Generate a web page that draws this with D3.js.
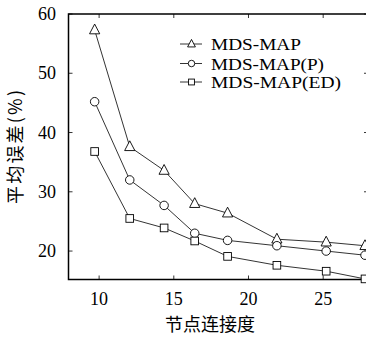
<!DOCTYPE html>
<html>
<head>
<meta charset="utf-8">
<script src="https://cdn.jsdelivr.net/npm/d3@7"></script>
<style>
  html, body { margin: 0; padding: 0; background: #fff; }
  svg { display: block; }
  text { font-family: "Liberation Serif", "DejaVu Serif", serif; fill: #000; }
  .cjk { font-family: "Noto Sans CJK SC", sans-serif; }
</style>
</head>
<body>
<div id="chart"></div>
<script>
// Data
const degree = [9.7, 12.05, 14.35, 16.4, 18.6, 21.9, 25.2, 27.8];
const mdsMap = [57.3, 37.6, 33.6, 28.0, 26.4, 22.0, 21.5, 20.9];
const mdsMapP = [45.2, 32.0, 27.7, 23.0, 21.8, 20.9, 20.0, 19.3];
const mdsMapED = [36.8, 25.5, 23.9, 21.7, 19.1, 17.6, 16.6, 15.3];
const seriesNames = ["MDS-MAP", "MDS-MAP(P)", "MDS-MAP(ED)"];
const seriesShapes = ["triangle", "circle", "square"];
const xTicks = [10, 15, 20, 25];
const yTicks = [20, 30, 40, 50, 60];

const width = 366, height = 338;
const mLeft = 68.5, mTop = 14, mBottom = 279.5, mRight = 368;

const svg = d3.select("#chart").append("svg")
  .attr("width", width)
  .attr("height", height);

const x = d3.scaleLinear().domain([7.95, 28]).range([mLeft, mRight]);
const y = d3.scaleLinear().domain([15.2, 60]).range([mBottom, mTop]);

// frame
svg.append("rect")
  .attr("x", mLeft).attr("y", mTop)
  .attr("width", mRight - mLeft).attr("height", mBottom - mTop)
  .attr("fill", "none").attr("stroke", "#000").attr("stroke-width", 1.5);

// inward ticks on all four sides
const tl = 4;
svg.append("g").selectAll("line").data(xTicks).join("line")
  .attr("x1", d => x(d)).attr("x2", d => x(d))
  .attr("y1", mBottom).attr("y2", mBottom - tl)
  .attr("stroke", "#000").attr("stroke-width", 0.8);
svg.append("g").selectAll("line").data(xTicks).join("line")
  .attr("x1", d => x(d)).attr("x2", d => x(d))
  .attr("y1", mTop).attr("y2", mTop + tl)
  .attr("stroke", "#000").attr("stroke-width", 0.8);
svg.append("g").selectAll("line").data(yTicks).join("line")
  .attr("x1", mLeft).attr("x2", mLeft + tl)
  .attr("y1", d => y(d)).attr("y2", d => y(d))
  .attr("stroke", "#000").attr("stroke-width", 0.8);
svg.append("g").selectAll("line").data(yTicks).join("line")
  .attr("x1", mRight).attr("x2", mRight - tl)
  .attr("y1", d => y(d)).attr("y2", d => y(d))
  .attr("stroke", "#000").attr("stroke-width", 0.8);

// tick labels
svg.append("g").selectAll("text").data(xTicks).join("text")
  .attr("x", d => x(d)).attr("y", 305)
  .attr("text-anchor", "middle")
  .style("font-size", "18px")
  .text(d => d);
svg.append("g").selectAll("text").data(yTicks).join("text")
  .attr("x", 56).attr("y", d => y(d) + 6)
  .attr("text-anchor", "end")
  .style("font-size", "18px")
  .text(d => d);

// axis titles
svg.append("text")
  .attr("class", "cjk")
  .attr("x", 210).attr("y", 331)
  .attr("text-anchor", "middle")
  .style("font-size", "18px")
  .text("节点连接度");
svg.append("text")
  .attr("class", "cjk")
  .attr("transform", "translate(22,147) rotate(-90)")
  .attr("text-anchor", "middle")
  .style("font-size", "18px")
  .attr("textLength", 114)
  .attr("lengthAdjust", "spacing")
  .text("平均误差(%)");

function drawMarker(g, shape, cx, cy, s) {
  if (shape === "triangle") {
    g.append("path")
      .attr("d", `M${cx},${cy - s * 0.7}L${cx + s * 0.6},${cy + s * 0.45}L${cx - s * 0.6},${cy + s * 0.45}Z`)
      .attr("fill", "#fff").attr("stroke", "#000").attr("stroke-width", 0.9);
  } else if (shape === "circle") {
    g.append("circle")
      .attr("cx", cx).attr("cy", cy).attr("r", s * 0.5)
      .attr("fill", "#fff").attr("stroke", "#000").attr("stroke-width", 0.9);
  } else {
    g.append("rect")
      .attr("x", cx - s * 0.45).attr("y", cy - s * 0.45)
      .attr("width", s * 0.9).attr("height", s * 0.9)
      .attr("fill", "#fff").attr("stroke", "#000").attr("stroke-width", 0.9);
  }
}

const allSeries = [mdsMap, mdsMapP, mdsMapED];
const line = d3.line().x(d => x(d[0])).y(d => y(d[1]));

const plot = svg.append("g");
allSeries.forEach((vals, i) => {
  const pts = degree.map((d, j) => [d, vals[j]]);
  plot.append("path")
    .attr("d", line(pts))
    .attr("fill", "none").attr("stroke", "#000").attr("stroke-width", 0.8);
  const mg = plot.append("g");
  pts.forEach(p => drawMarker(mg, seriesShapes[i], x(p[0]), y(p[1]), 8.5));
});

// legend
const legendY = [44, 63.5, 82];
const legendW = [90, 113, 130];
seriesNames.forEach((name, i) => {
  const g = svg.append("g");
  g.append("line")
    .attr("x1", 180).attr("x2", 202)
    .attr("y1", legendY[i]).attr("y2", legendY[i])
    .attr("stroke", "#000").attr("stroke-width", 0.8);
  drawMarker(g, seriesShapes[i], 191.5, legendY[i], 6.5);
  g.append("text")
    .attr("x", 211).attr("y", legendY[i] + 6)
    .style("font-size", "17px")
    .attr("textLength", legendW[i])
    .attr("lengthAdjust", "spacingAndGlyphs")
    .text(name);
});
</script>
</body>
</html>
